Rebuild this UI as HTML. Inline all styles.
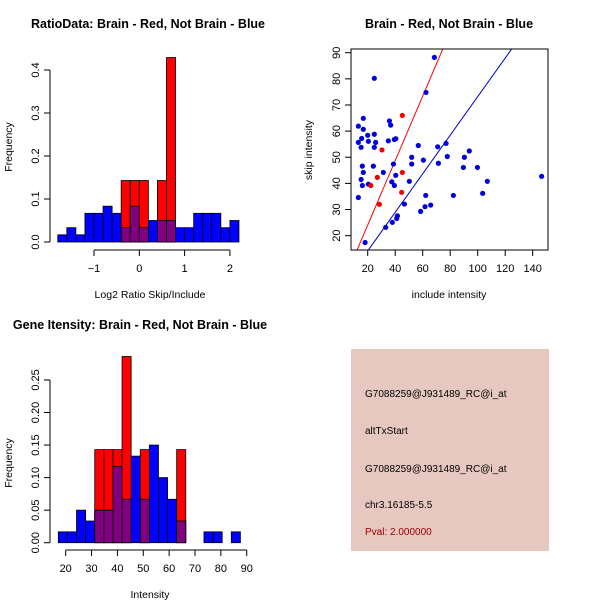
<!DOCTYPE html>
<html><head><meta charset="utf-8"><style>
html,body{margin:0;padding:0;background:#fff;}
svg{display:block;font-family:"Liberation Sans",sans-serif;}
</style></head><body>
<svg id="c" width="600" height="600" viewBox="0 0 600 600">
<rect x="0" y="0" width="600" height="600" fill="#fff"/>
</svg>
<script>
// ---- Ratio histogram data ----
const ratioBinStart = -1.8;
const ratioBinWidth = 0.2;
const ratioBlue = [0.0167,0.0333,0.0167,0.0667,0.0667,0.0833,0.0667,0.0333,0.0833,0.0333,0.05,0.05,0.05,0.0333,0.0333,0.0667,0.0667,0.0667,0.0333,0.05];
const ratioRed  = [0,0,0,0,0,0,0,0.143,0.143,0.143,0,0.143,0.429,0,0,0,0,0,0,0];
const ratioXTicks = [-1,0,1,2];
const ratioYTicks = [0,0.1,0.2,0.3,0.4];
const ratioYLabels = ["0.0","0.1","0.2","0.3","0.4"];
// ---- Scatter data ----
const blueInclude = [13.2,13.2,13.2,15.2,15.6,16.8,16.8,16.1,16.8,15.2,16.1,18.1,20,20.5,20.5,24.1,24.8,24.8,25.8,24.8,31.4,33.1,35,35.8,36.7,37.5,38.7,37.9,39.4,40.4,39.4,40.4,41.1,41.6,46.7,50.3,52,52,56.8,58.5,60.5,61.7,62.2,62.4,65.8,68.5,70.9,71.4,77,77.9,82.3,89.6,90.3,93.9,99.8,103.6,107,146.5];
const blueSkip = [34.6,61.9,55.7,53.8,57.2,64.9,60.7,46.6,44.2,41.5,39.2,17.4,58.4,56.1,39.7,46.6,80.2,58.8,55.7,53.8,44.2,23.2,56.3,63.9,62.3,40.6,47.4,25.1,56.8,57.1,39.2,43.1,26.6,27.6,32.1,40.8,50,47.4,54.5,29.3,48.9,31.1,35.4,74.8,31.7,88.2,54,47.7,55.3,50.3,35.4,46.1,50,52.4,46.1,36.2,40.8,42.7];
const redInclude = [22.2,27,28.5,30.4,45.2,45.2,44.7];
const redSkip = [39.2,42.3,32,52.8,66,44.2,36.6];
const redFit = [-0.6,1.233];
const blueFit = [-0.6,0.738];
const scatXTicks = [20,40,60,80,100,120,140];
const scatYTicks = [20,30,40,50,60,70,80,90];
// ---- Intensity histogram data ----
const intBinStart = 17.15;
const intBinWidth = 3.52;
const intBlue = [0.0167,0.0167,0.05,0.0333,0.05,0.05,0.117,0.0667,0.133,0.0667,0.15,0.1,0.0667,0.0333,0,0,0.0167,0.0167,0,0.0167];
const intRed  = [0,0,0,0,0.143,0.143,0.143,0.286,0,0.143,0,0,0,0.143,0,0,0,0,0,0];
const intXTicks = [20,30,40,50,60,70,80,90];
const intYTicks = [0,0.05,0.1,0.15,0.2,0.25];
const intYLabels = ["0.00","0.05","0.10","0.15","0.20","0.25"];

const svg = document.getElementById('c');
const NS = 'http://www.w3.org/2000/svg';
function mk(tag, attrs, parent){
  const e = document.createElementNS(NS, tag);
  for (const k in attrs) e.setAttribute(k, attrs[k]);
  (parent||svg).appendChild(e);
  return e;
}
function txt(s, x, y, size, opts, parent){
  opts = opts||{};
  const t = mk('text', {x:x, y:y, 'font-size':size, 'text-anchor':opts.anchor||'middle', fill:opts.fill||'#000'}, parent);
  if (opts.bold) t.setAttribute('font-weight','bold');
  if (opts.rot) t.setAttribute('transform','rotate(-90 '+x+' '+y+')');
  t.textContent = s;
  return t;
}

// ===== Panel 1: ratio histogram =====
const g1 = mk('g', {});


const rx = v => 139.3 + (v)*45.3;
const ry = v => 242 - v*430;
function drawHist(g, blue, red, start, width, xf, yf, prefix){
  blue.forEach((v,i)=>{
    if (v<=0) return;
    const x0 = xf(start+i*width), x1 = xf(start+(i+1)*width);
    const r = mk('rect',{x:x0,y:yf(v),width:x1-x0,height:yf(0)-yf(v),fill:'#0000ff',stroke:'#000','stroke-width':0.8},g);
    
    
  });
  red.forEach((v,i)=>{
    if (v<=0) return;
    const x0 = xf(start+i*width), x1 = xf(start+(i+1)*width);
    const r = mk('rect',{x:x0,y:yf(v),width:x1-x0,height:yf(0)-yf(v),fill:'#ff0000',stroke:'#000','stroke-width':0.8},g);
    
    
    const m = Math.min(v, blue[i]);
    if (m>0){
      const p = mk('rect',{x:x0,y:yf(m),width:x1-x0,height:yf(0)-yf(m),fill:'#800080',stroke:'#000','stroke-width':0.8},g);
      
      
    }
  });
}
drawHist(g1, ratioBlue, ratioRed, ratioBinStart, ratioBinWidth, rx, ry, 'ratio');
// axes
mk('line',{x1:rx(ratioXTicks[0]),y1:250,x2:rx(ratioXTicks[ratioXTicks.length-1]),y2:250,stroke:'#000'},g1);
ratioXTicks.forEach(t=>{ mk('line',{x1:rx(t),y1:250,x2:rx(t),y2:256,stroke:'#000'},g1); txt(String(t).replace('-','\u2212'), rx(t), 272, 11, {}, g1); });
mk('line',{x1:50,y1:ry(0),x2:50,y2:ry(0.4),stroke:'#000'},g1);
ratioYTicks.forEach((t,i)=>{ mk('line',{x1:44,y1:ry(t),x2:50,y2:ry(t),stroke:'#000'},g1); txt(ratioYLabels[i], 39, ry(t), 11, {rot:true}, g1); });
txt('RatioData: Brain - Red, Not Brain - Blue', 148, 28, 12.5, {bold:true}, g1);
txt('Log2 Ratio Skip/Include', 150, 298, 10.5, {}, g1);
txt('Frequency', 12, 147, 10.5, {rot:true}, g1);

// ===== Panel 2: scatter =====
const g2 = mk('g', {});


const sx = v => 367.7 + (v-20)*1.375;
const sy = v => 52.7 + (90-v)*2.614;
const clip = mk('clipPath',{id:'sc'},g2);
mk('rect',{x:351,y:49,width:197,height:201},clip);
const lg = mk('g',{'clip-path':'url(#sc)'},g2);
[[redFit,'#ff0000','red-fit-line'],[blueFit,'#0000cc','blue-fit-line']].forEach(([f,c,n])=>{
  const l = mk('line',{x1:sx(0),y1:sy(f[0]),x2:sx(200),y2:sy(f[0]+f[1]*200),stroke:c,'stroke-width':1},lg);
  
  
});
blueInclude.forEach((v,i)=>{
  const c = mk('circle',{cx:sx(v),cy:sy(blueSkip[i]),r:2.6,fill:'#0000dd'},g2);
  
  
});
redInclude.forEach((v,i)=>{
  const c = mk('circle',{cx:sx(v),cy:sy(redSkip[i]),r:2.6,fill:'#ee0000'},g2);
  
  
});
mk('rect',{x:351,y:49,width:197,height:201,fill:'none',stroke:'#000'},g2);
scatXTicks.forEach(t=>{ mk('line',{x1:sx(t),y1:250,x2:sx(t),y2:256,stroke:'#000'},g2); txt(String(t), sx(t), 272, 11, {}, g2); });
scatYTicks.forEach(t=>{ mk('line',{x1:345,y1:sy(t),x2:351,y2:sy(t),stroke:'#000'},g2); txt(String(t), 340, sy(t), 11, {rot:true}, g2); });
txt('Brain - Red, Not Brain - Blue', 449, 28, 12.5, {bold:true}, g2);
txt('include intensity', 449, 298, 10.5, {}, g2);
txt('skip intensity', 312, 150, 10.5, {rot:true}, g2);

// ===== Panel 3: intensity histogram =====
const g3 = mk('g', {});


const ix = v => 65.7 + (v-20)*2.586;
const iy = v => 542.7 - v*651;
drawHist(g3, intBlue, intRed, intBinStart, intBinWidth, ix, iy, 'intensity');
mk('line',{x1:ix(20),y1:550,x2:ix(90),y2:550,stroke:'#000'},g3);
intXTicks.forEach(t=>{ mk('line',{x1:ix(t),y1:550,x2:ix(t),y2:556,stroke:'#000'},g3); txt(String(t), ix(t), 572, 11, {}, g3); });
mk('line',{x1:50,y1:iy(0),x2:50,y2:iy(0.25),stroke:'#000'},g3);
intYTicks.forEach((t,i)=>{ mk('line',{x1:44,y1:iy(t),x2:50,y2:iy(t),stroke:'#000'},g3); txt(intYLabels[i], 39, iy(t), 11, {rot:true}, g3); });
txt('Gene Itensity: Brain - Red, Not Brain - Blue', 140, 329, 12.5, {bold:true}, g3);
txt('Intensity', 150, 598, 10.5, {}, g3);
txt('Frequency', 12, 463, 10.5, {rot:true}, g3);

// ===== Panel 4: info box =====
const g4 = mk('g', {});


mk('rect',{x:351,y:349,width:198,height:202,fill:'#e6c8c0'},g4);
const info = [['G7088259@J931489_RC@i_at',397,'#000'],['altTxStart',434,'#000'],['G7088259@J931489_RC@i_at',472,'#000'],['chr3.16185-5.5',508,'#000'],['Pval: 2.000000',535,'#a00000']];
info.forEach(([s,y,c])=>{
  const t = txt(s, 365, y, 10, {anchor:'start', fill:c}, g4);
  
  
});
</script>
</body></html>
